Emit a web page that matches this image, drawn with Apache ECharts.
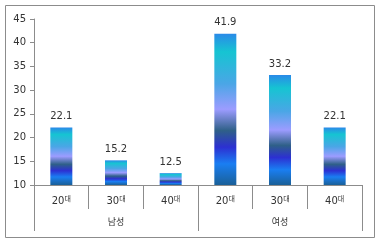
<!DOCTYPE html>
<html><head><meta charset="utf-8">
<script src="https://cdn.jsdelivr.net/npm/echarts@6/dist/echarts.min.js"></script>
<style>html,body{margin:0;padding:0;background:#fff}#c{width:380px;height:244px}</style>
</head><body><div id="c"></div>
<script>
const categories = ['20', '30', '40', '20', '30', '40'];
const categorySuffix = '대';
const groups = ['남성', '여성'];
const values = [22.1, 15.2, 12.5, 41.9, 33.2, 22.1];
const yTicks = [10, 15, 20, 25, 30, 35, 40, 45];

const grad = new echarts.graphic.LinearGradient(0, 0, 0, 1, [
  {offset: 0, color: '#2a8ae8'},
  {offset: 0.12, color: '#16c4d2'},
  {offset: 0.33, color: '#4aa6e6'},
  {offset: 0.5, color: '#9c9cff'},
  {offset: 0.64, color: '#2f6088'},
  {offset: 0.75, color: '#2c30d2'},
  {offset: 0.86, color: '#1a7ef2'},
  {offset: 1, color: '#1a6098'}
]);

const chart = echarts.init(document.getElementById('c'), null, {renderer: 'canvas'});
chart.setOption({
  animation: false,
  graphic: [{
    type: 'rect', shape: {x: 5.5, y: 5.5, width: 369, height: 232},
    style: {fill: 'none', stroke: '#8c8c8c', lineWidth: 1}, z: -1
  }],
  grid: {left: 34, right: 18, top: 19, bottom: 59},
  xAxis: [{
    type: 'category', data: categories, position: 'bottom',
    axisLine: {show: true, lineStyle: {color: '#8c8c8c'}},
    axisTick: {show: true, interval: 0, length: 24, lineStyle: {color: '#8c8c8c'}},
    axisLabel: {
      show: true, interval: 0, margin: 10, color: '#333',
      formatter: v => '{n|' + v + '}{s|' + categorySuffix + '}',
      rich: {n: {fontSize: 10, fontFamily: 'DejaVu Sans', color: '#333'},
             s: {fontSize: 7, fontFamily: 'Noto Sans CJK KR', color: '#333', padding: [0, 0, 5, 0]}}
    }
  }, {
    type: 'category', data: groups, position: 'bottom',
    axisLine: {show: false},
    axisTick: {show: true, interval: 0, length: 46, lineStyle: {color: '#8c8c8c'}},
    axisLabel: {show: true, interval: 0, margin: 32, fontSize: 9, fontFamily: 'Noto Sans CJK KR', color: '#333'}
  }],
  yAxis: {
    type: 'value', min: 10, max: 45, interval: 5,
    axisLine: {show: true, lineStyle: {color: '#8c8c8c'}},
    axisTick: {show: true, length: 4, lineStyle: {color: '#8c8c8c'}},
    splitLine: {show: false},
    axisLabel: {fontSize: 10, fontFamily: 'DejaVu Sans', color: '#333', margin: 8,
      formatter: v => yTicks.includes(v) ? String(v) : ''}
  },
  series: [{
    type: 'bar', xAxisIndex: 0, data: values, barWidth: 22,
    itemStyle: {color: grad},
    label: {show: true, position: 'top', distance: 6, fontSize: 10, fontFamily: 'DejaVu Sans', color: '#333',
      formatter: p => p.value.toFixed(1)}
  }]
});
</script></body></html>
